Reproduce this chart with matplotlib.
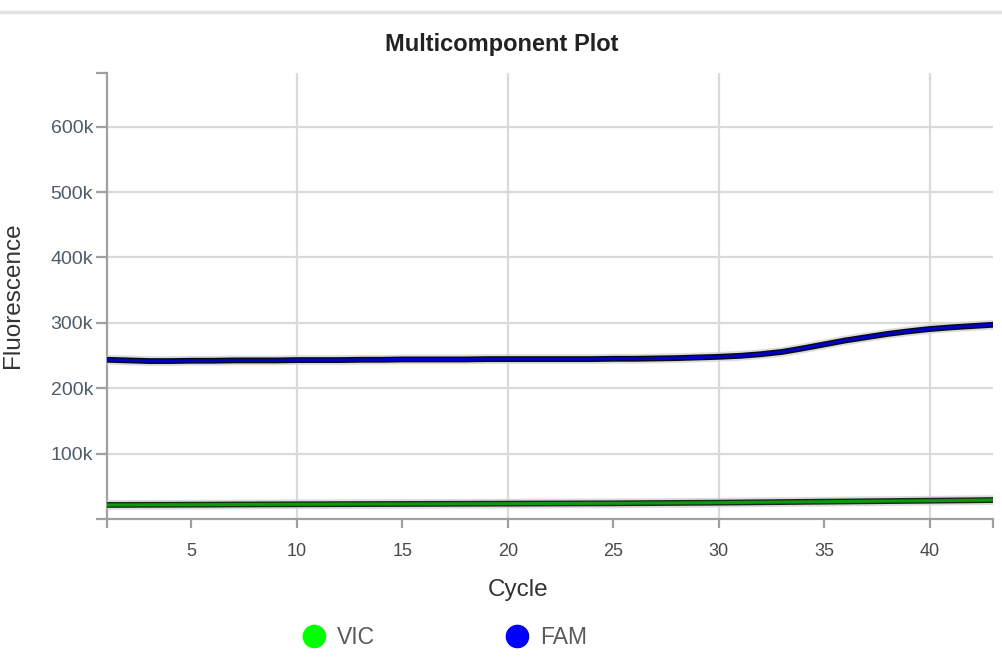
import matplotlib
matplotlib.use("Agg")
import matplotlib.pyplot as plt
import matplotlib.patheffects as pe
from matplotlib.lines import Line2D
from matplotlib.ticker import FixedLocator, FuncFormatter

# Cycle numbers and fluorescence
cycles = list(range(1, 44))
fam = [243500, 242500, 241500, 241500, 242000, 242000, 242500, 242500, 242500, 243000,
       243000, 243000, 243500, 243500, 244000, 244000, 244000, 244000, 244500, 244500,
       244500, 244500, 244500, 244500, 245000, 245000, 245500, 246000, 247000, 248000,
       249500, 252000, 255500, 261000, 267000, 273000, 278000, 283000, 287000, 290500,
       293000, 295000, 297000]
vic = [21500, 21600, 21700, 21800, 21900, 22000, 22200, 22300, 22400, 22500,
       22600, 22700, 22800, 22900, 23000, 23100, 23200, 23300, 23400, 23500,
       23600, 23700, 23800, 23900, 24000, 24200, 24400, 24600, 24800, 25000,
       25300, 25600, 25900, 26200, 26500, 26800, 27100, 27400, 27700, 28000,
       28300, 28600, 29000]

series_names = ["VIC", "FAM"]
series_colors = ["#00ff00", "#0000ff"]
line_colors = ["#0a9a0a", "#0000c8"]

x_labels = [5, 10, 15, 20, 25, 30, 35, 40]
x_grid = [10, 20, 30, 40]
y_ticks = [100000, 200000, 300000, 400000, 500000, 600000]
y_max = 682000

plt.rcParams['font.family'] = ['Liberation Sans', 'DejaVu Sans']

fig = plt.figure(figsize=(10.03, 6.62), dpi=100)
ax = fig.add_axes([107 / 1003, 1 - 519 / 662, (993 - 107) / 1003, (519 - 73) / 662])

axis_grey = "#a0a0a0"
grid_grey = "#dadada"

# grid lines
for y in y_ticks:
    ax.axhline(y, color=grid_grey, lw=1.6, zorder=0)
for x in x_grid:
    ax.axvline(x, color=grid_grey, lw=1.6, zorder=0)

halo = "#d6d0da"
ax.plot(cycles, vic, color=line_colors[0], lw=2.2, zorder=3,
        path_effects=[pe.Stroke(linewidth=7, foreground=halo, alpha=0.8),
                      pe.Stroke(linewidth=4.2, foreground="#1a2a1a"),
                      pe.Normal()])
ax.plot(cycles, fam, color=line_colors[1], lw=2.2, zorder=3,
        path_effects=[pe.Stroke(linewidth=7, foreground="#d4d4cc", alpha=0.8),
                      pe.Stroke(linewidth=4.2, foreground="#0a0a14"),
                      pe.Normal()])

ax.set_xlim(cycles[0], cycles[-1])
ax.set_ylim(0, y_max)

for side in ["top", "right"]:
    ax.spines[side].set_visible(False)
for side in ["left", "bottom"]:
    ax.spines[side].set_color(axis_grey)
    ax.spines[side].set_linewidth(1.6)

ax.xaxis.set_major_locator(FixedLocator([cycles[0]] + x_labels + [cycles[-1]]))
ax.xaxis.set_major_formatter(FuncFormatter(lambda v, p: f"{int(v)}" if v in x_labels else ""))
ax.yaxis.set_major_locator(FixedLocator([0] + y_ticks + [y_max]))
ax.yaxis.set_major_formatter(FuncFormatter(lambda v, p: f"{int(v / 1000)}k" if v in y_ticks else ""))

ax.tick_params(axis="x", length=6.5, width=1.6, color=axis_grey, pad=11,
               labelsize=13, labelcolor="#4a4a4a")
ax.tick_params(axis="y", length=8, width=1.6, color=axis_grey, pad=2,
               labelsize=14, labelcolor="#4d5b6b")

fig.text(0.5, 1 - 44 / 662, "Multicomponent Plot", ha="center", va="center",
         fontsize=17, fontweight="bold", color="#222222")
fig.text(13 / 1003, 1 - 295 / 662, "Fluorescence", rotation=90, ha="center", va="center",
         fontsize=17.5, color="#333333")
fig.text(518 / 1003, 1 - 590 / 662, "Cycle", ha="center", va="center",
         fontsize=17.5, color="#333333")

# thin rule at the very top of the panel
fig.add_artist(Line2D([0, 1], [1 - 11.5 / 662] * 2, transform=fig.transFigure,
                      lw=2.5, color="#e2e2e2"))

handles = [Line2D([], [], ls="none", marker="o", markersize=16, color=c, markeredgecolor=c)
           for c in series_colors]
leg = fig.legend(handles, series_names, loc="center", bbox_to_anchor=(446 / 1003, 1 - 638 / 662),
                 ncol=2, frameon=False, fontsize=16.5, handlelength=0.8, handletextpad=0.6,
                 columnspacing=5.8, borderpad=0, borderaxespad=0)
for t in leg.get_texts():
    t.set_color("#5a5a5a")

fig.savefig("out.png", dpi=100)
